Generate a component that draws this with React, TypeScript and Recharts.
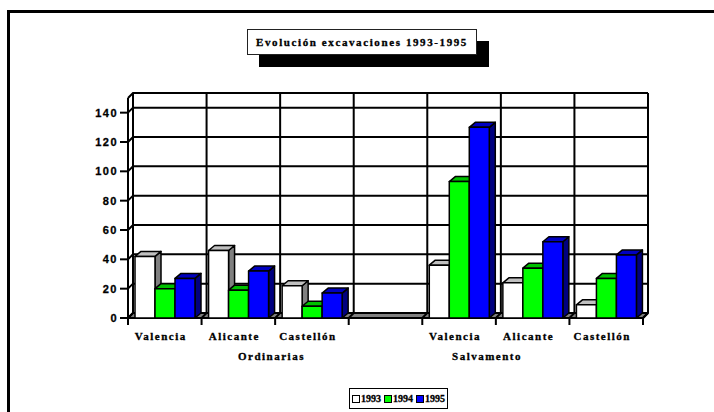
import React from 'react';
import { BarChart, Bar, XAxis, YAxis, CartesianGrid } from 'recharts';

const categories = ['Valencia', 'Alicante', 'Castellón', '', 'Valencia', 'Alicante', 'Castellón'];
const values1993 = [42, 46, 22, null, 36, 24, 9];
const values1994 = [20, 19, 8, null, 93, 34, 27];
const values1995 = [27, 32, 17, null, 130, 52, 43];
const yTicks = [0, 20, 40, 60, 80, 100, 120, 140];
const yMax = 150;
const groupLabels = ['Ordinarias', 'Salvamento'];
const groupPositions = [1.95, 4.88];
const seriesNames = ['1993', '1994', '1995'];
const title = 'Evolución excavaciones 1993-1995';

const seriesKeys = ['s1993', 's1994', 's1995'];
const frontColors = ['#ffffff', '#00ff00', '#0000ff'];
const topColors = ['#c0c0c0', '#00c000', '#0000c0'];
const sideColors = ['#808080', '#008000', '#000080'];

const data = categories.map((name, i) => ({
  name,
  pos: i + 0.5,
  s1993: values1993[i],
  s1994: values1994[i],
  s1995: values1995[i],
}));

const SERIF = '"Liberation Serif", "Times New Roman", serif';
const SANS = '"Liberation Sans", Arial, sans-serif';
const D = 5;
const BD = 6;
const BDY = 5;

const make3D = (front: string, top: string, side: string) => (props: any) => {
  const { x, y, width, height, value } = props;
  if (value == null || !height || height <= 0) return <g />;
  return (
    <g stroke="#000" strokeWidth={1.5} strokeLinejoin="round">
      <polygon
        points={`${x + width},${y} ${x + width + BD},${y - BDY} ${x + width + BD},${y + height - BDY} ${x + width},${y + height}`}
        fill={side}
      />
      <polygon
        points={`${x},${y} ${x + BD},${y - BDY} ${x + width + BD},${y - BDY} ${x + width},${y}`}
        fill={top}
      />
      <rect x={x} y={y} width={width} height={height} fill={front} />
    </g>
  );
};

const HLine = (p: any) => {
  const { x1, x2, y1, index } = p;
  if (index === 0) {
    return (
      <polygon
        key={`h${index}`}
        points={`${x1},${y1} ${x2},${y1} ${x2 + D},${y1 - D} ${x1 + D},${y1 - D}`}
        fill="#808080"
        stroke="#000"
        strokeWidth={2}
        strokeLinejoin="round"
      />
    );
  }
  return (
    <path
      key={`h${index}`}
      d={`M${x1},${y1} L${x1 + D},${y1 - D} L${x2 + D},${y1 - D}`}
      fill="none"
      stroke="#000"
      strokeWidth={2}
    />
  );
};

const VLine = (p: any) => {
  const { x1, y1, y2, index } = p;
  return (
    <path
      key={`v${index}`}
      d={`M${x1 + D},${y1 - D} L${x1 + D},${y2 - D} M${x1},${y2} L${x1 + D},${y2 - D} M${x1},${y2} L${x1},${y2 + 7}`}
      fill="none"
      stroke="#000"
      strokeWidth={2}
    />
  );
};

const textProps = { fill: '#000', stroke: '#000', strokeWidth: 0.3, fontWeight: 'bold' as const };

const YTick = (p: any) => {
  const { x, y, payload } = p;
  return (
    <text x={x} y={y} dy="0.355em" textAnchor="end" fontFamily={SANS} fontSize={11} {...textProps} style={{ letterSpacing: 1.5 }}>
      {payload.value}
    </text>
  );
};

const XTick = (p: any) => {
  const { x, y, payload } = p;
  return (
    <text x={x - 4} y={y} dy="0.71em" textAnchor="middle" fontFamily={SERIF} fontSize={11} {...textProps} style={{ letterSpacing: 1.5 }}>
      {payload.value}
    </text>
  );
};

const GroupTick = (p: any) => {
  const { x, y, payload, index } = p;
  const i = groupPositions.indexOf(payload.value);
  return (
    <text x={x} y={y} dy="0.71em" textAnchor="middle" fontFamily={SERIF} fontSize={11} {...textProps} style={{ letterSpacing: 1.5 }}>
      {groupLabels[i >= 0 ? i : index]}
    </text>
  );
};

export default function App() {
  return (
    <div style={{ position: 'absolute', left: 0, top: 0, width: 714, height: 412, background: '#fff', overflow: 'hidden' }}>
      <div style={{ position: 'absolute', left: 7, top: 10, width: 900, height: 600, borderTop: '3px solid #000', borderLeft: '3px solid #000' }} />
      <div style={{ position: 'absolute', left: 0, top: 0 }}>
        <BarChart width={714} height={412} data={data} margin={{ top: 98, right: 71, left: 0, bottom: 52 }} barCategoryGap={7} barGap={0}>
          <CartesianGrid
            horizontalCoordinatesGenerator={({ offset }: any) => [...yTicks, yMax].map((v) => offset.top + offset.height * (1 - v / yMax))}
            verticalCoordinatesGenerator={({ offset }: any) =>
              categories.map((_, i) => offset.left + (offset.width * i) / categories.length).concat(offset.left + offset.width)
            }
            horizontal={(p: any) => <HLine {...p} />}
            vertical={(p: any) => <VLine {...p} />}
          />
          <XAxis dataKey="name" height={26} axisLine={false} tickLine={false} tickSize={0} tickMargin={14} tick={<XTick />} interval={0} />
          <XAxis
            xAxisId="grp"
            dataKey="pos"
            type="number"
            domain={[0, categories.length]}
            allowDataOverflow
            ticks={groupPositions}
            height={16}
            axisLine={false}
            tickLine={false}
            tickSize={0}
            tickMargin={8}
            tick={<GroupTick />}
            interval={0}
          />
          <YAxis
            width={128}
            domain={[0, yMax]}
            ticks={yTicks}
            interval={0}
            axisLine={{ stroke: '#000', strokeWidth: 2 }}
            tickLine={{ stroke: '#000', strokeWidth: 2 }}
            tickSize={8}
            tick={<YTick />}
          />
          {seriesKeys.map((k, i) => (
            <Bar key={k} dataKey={k} name={seriesNames[i]} fill={frontColors[i]} isAnimationActive={false} shape={make3D(frontColors[i], topColors[i], sideColors[i])} />
          ))}
        </BarChart>
      </div>
      <div
        style={{
          position: 'absolute',
          left: 247,
          top: 29,
          width: 228,
          height: 24,
          border: '1.5px solid #222',
          background: '#fff',
          boxShadow: '12px 12px 0 #000',
          fontFamily: SERIF,
          fontWeight: 'bold',
          fontSize: 11,
          letterSpacing: 1.6,
          lineHeight: '24px',
          textAlign: 'center',
          color: '#000',
          whiteSpace: 'nowrap',
          WebkitTextStroke: '0.3px #000',
        }}
      >
        {title}
      </div>
      <div
        style={{
          position: 'absolute',
          left: 349,
          top: 388,
          height: 19,
          padding: '0 2px',
          border: '1px solid #000',
          background: '#fff',
          display: 'flex',
          alignItems: 'center',
          gap: 3,
          fontFamily: SERIF,
          fontWeight: 'bold',
          fontSize: 10,
          color: '#000',
          whiteSpace: 'nowrap',
          WebkitTextStroke: '0.3px #000',
        }}
      >
        {seriesNames.map((n, i) => (
          <span key={n} style={{ display: 'flex', alignItems: 'center' }}>
            <span style={{ display: 'inline-block', width: 6, height: 6, border: '1px solid #000', background: frontColors[i], marginRight: 1 }} />
            {n}
          </span>
        ))}
      </div>
    </div>
  );
}
